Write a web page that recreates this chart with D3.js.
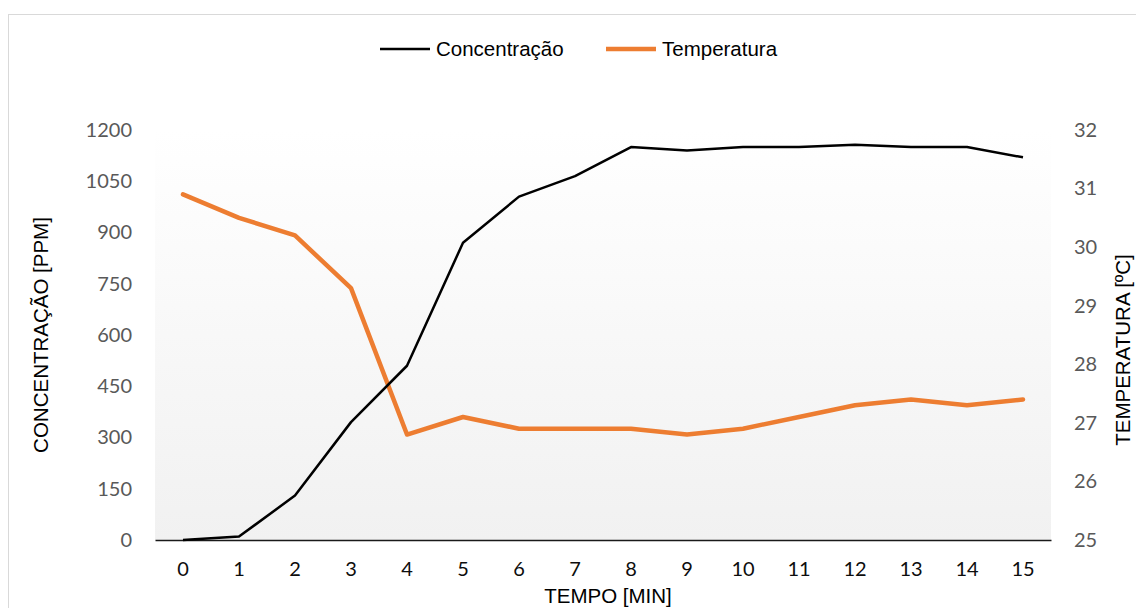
<!DOCTYPE html>
<html lang="pt">
<head>
<meta charset="UTF-8">
<title>Concentração e Temperatura</title>
<script src="https://cdn.jsdelivr.net/npm/d3@7/dist/d3.min.js"></script>
<style>
body { margin: 0; background: #fff; }
#canvas { width: 1136px; height: 608px; }
</style>
</head>
<body>
<div id="canvas"></div>
<script>
// data
var tempo = [0, 1, 2, 3, 4, 5, 6, 7, 8, 9, 10, 11, 12, 13, 14, 15];
var concentracao = [0, 10, 130, 345, 510, 870, 1005, 1065, 1150, 1140, 1150, 1150, 1157, 1150, 1150, 1120];
var temperatura = [30.9, 30.5, 30.2, 29.3, 26.8, 27.1, 26.9, 26.9, 26.9, 26.8, 26.9, 27.1, 27.3, 27.4, 27.3, 27.4];
var leftTicks = [0, 150, 300, 450, 600, 750, 900, 1050, 1200];
var rightTicks = [25, 26, 27, 28, 29, 30, 31, 32];

var width = 1136, height = 608;
var plot = {left: 155, right: 1051, top: 130, bottom: 540};

var svg = d3.select("#canvas")
            .append("svg")
            .attr("width", width)
            .attr("height", height);

// outer chart border
svg.append("rect")
   .attr("x", 8.5).attr("y", 14.5)
   .attr("width", 1150).attr("height", 640)
   .attr("fill", "#fff")
   .attr("stroke", "#d9d9d9");

var defs = svg.append("defs");
var grad = defs.append("linearGradient")
               .attr("id", "bg")
               .attr("x1", 0).attr("y1", 0).attr("x2", 0).attr("y2", 1);
grad.append("stop").attr("offset", "0%").attr("stop-color", "#ffffff");
grad.append("stop").attr("offset", "100%").attr("stop-color", "#f1f1f1");

svg.append("rect")
   .attr("x", plot.left).attr("y", plot.top)
   .attr("width", plot.right - plot.left)
   .attr("height", plot.bottom - plot.top)
   .attr("fill", "url(#bg)");

var x = d3.scaleBand().domain(tempo).range([plot.left, plot.right]);
var yL = d3.scaleLinear().domain([0, 1200]).range([plot.bottom, plot.top]);
var yR = d3.scaleLinear().domain([25, 32]).range([plot.bottom, plot.top]);
var cx = function(d) { return x(d) + x.bandwidth() / 2; };

var tickFont = "20px Lato, 'Open Sans', sans-serif";

// axes
var xAxis = svg.append("g")
   .attr("transform", "translate(0," + plot.bottom + ")")
   .call(d3.axisBottom(x).tickSize(0).tickPadding(22));
xAxis.select(".domain").attr("stroke", "#1a1a1a").attr("stroke-width", 1.5);
xAxis.selectAll("text")
     .style("font", tickFont)
     .attr("fill", "#0d0d0d");

var leftAxis = svg.append("g")
   .attr("transform", "translate(" + (plot.left - 23) + ",0)")
   .call(d3.axisLeft(yL).tickValues(leftTicks).tickFormat(d3.format("d"))
           .tickSize(0).tickPadding(0));
leftAxis.select(".domain").remove();
leftAxis.selectAll("text")
        .style("font", tickFont)
        .attr("fill", "#595959");

var rightAxis = svg.append("g")
   .attr("transform", "translate(1074,0)")
   .call(d3.axisRight(yR).tickValues(rightTicks).tickFormat(d3.format("d"))
           .tickSize(0).tickPadding(0));
rightAxis.select(".domain").remove();
rightAxis.selectAll("text")
         .style("font", tickFont)
         .attr("fill", "#595959");

// lines
var lineC = d3.line()
    .x(function(d, i) { return cx(tempo[i]); })
    .y(function(d) { return yL(d); });
var lineT = d3.line()
    .x(function(d, i) { return cx(tempo[i]); })
    .y(function(d) { return yR(d); });

svg.append("path")
   .datum(temperatura)
   .attr("d", lineT)
   .attr("fill", "none")
   .attr("stroke", "#ed7d31")
   .attr("stroke-width", 4.5)
   .attr("stroke-linejoin", "round")
   .attr("stroke-linecap", "round");

svg.append("path")
   .datum(concentracao)
   .attr("d", lineC)
   .attr("fill", "none")
   .attr("stroke", "#000")
   .attr("stroke-width", 2.5)
   .attr("stroke-linejoin", "round");

// axis titles
var titleFont = "20.5px 'Liberation Sans', Arial, sans-serif";
svg.append("text")
   .attr("x", (plot.left + plot.right) / 2 + 5).attr("y", 603)
   .attr("text-anchor", "middle")
   .style("font", titleFont)
   .text("TEMPO [MIN]");

svg.append("text")
   .attr("transform", "translate(48,335) rotate(-90)")
   .attr("text-anchor", "middle")
   .style("font", titleFont)
   .text("CONCENTRAÇÃO [PPM]");

svg.append("text")
   .attr("transform", "translate(1130,350) rotate(-90)")
   .attr("text-anchor", "middle")
   .style("font", titleFont)
   .text("TEMPERATURA [ºC]");

// legend
var legend = [
  {name: "Concentração", color: "#000", w: 2.5, x: 380},
  {name: "Temperatura", color: "#ed7d31", w: 4.5, x: 606}
];
var lg = svg.append("g").selectAll("g")
            .data(legend)
            .enter()
            .append("g")
            .attr("transform", function(d) { return "translate(" + d.x + ",49)"; });
lg.append("line")
  .attr("x1", 0).attr("x2", 50)
  .attr("stroke", function(d) { return d.color; })
  .attr("stroke-width", function(d) { return d.w; });
lg.append("text")
  .attr("x", 56).attr("y", 7)
  .style("font", titleFont)
  .text(function(d) { return d.name; });
</script>
</body>
</html>
